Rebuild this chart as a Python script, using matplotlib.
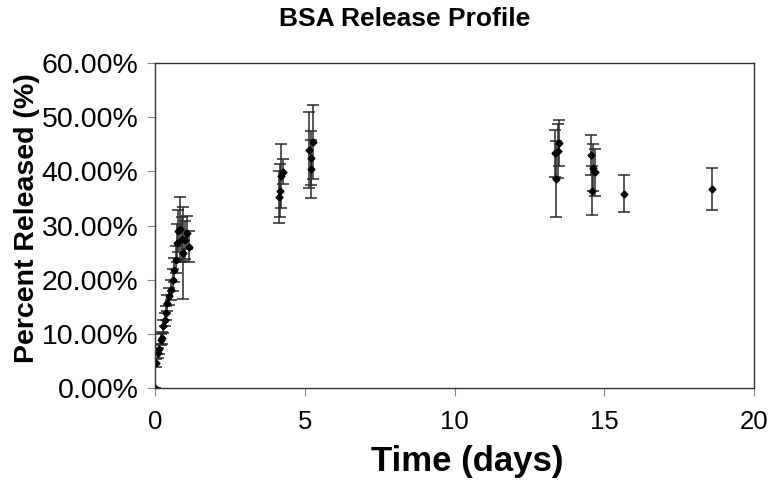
import matplotlib
matplotlib.use("Agg")
import matplotlib.pyplot as plt
from matplotlib.ticker import FuncFormatter

# Data (days, percent released, error)
days = [0.0, 0.03, 0.11, 0.14, 0.19, 0.23, 0.28, 0.33, 0.37, 0.41, 0.48, 0.52, 0.59, 0.63,
        0.70, 0.74, 0.78, 0.83, 0.89, 0.94, 1.00, 1.06, 1.14,
        4.13, 4.17, 4.22, 4.28,
        5.14, 5.20, 5.22, 5.26,
        13.37, 13.39, 13.44, 13.50,
        14.56, 14.59, 14.63, 14.70,
        15.67, 18.61]
released = [0.0, 4.6, 6.5, 7.2, 8.9, 9.2, 11.4, 12.6, 13.9, 15.7, 16.9, 18.1, 20.0, 21.8,
            23.7, 26.8, 29.0, 29.3, 27.5, 25.0, 27.4, 28.7, 26.1,
            35.3, 36.4, 39.1, 39.9,
            43.9, 42.5, 40.4, 45.4,
            43.3, 38.6, 43.8, 45.2,
            43.0, 36.4, 40.7, 39.8,
            35.9, 36.7]
errors = [0.0, 0.8, 0.9, 1.0, 1.0, 1.1, 1.2, 1.2, 1.3, 1.5, 1.6, 1.8, 2.0, 2.2,
          2.5, 3.5, 3.8, 6.0, 4.0, 8.5, 3.5, 3.0, 2.8,
          4.8, 4.9, 5.9, 2.3,
          7.0, 5.0, 5.3, 6.8,
          4.3, 7.0, 5.0, 4.3,
          3.7, 4.5, 4.3, 4.3,
          3.35, 3.85]

x_ticks = [0, 5, 10, 15, 20]
y_ticks = [0, 10, 20, 30, 40, 50, 60]

plt.rcParams['font.family'] = ['Liberation Sans', 'DejaVu Sans']

W, H = 768, 491
fig = plt.figure(figsize=(W/100, H/100), dpi=100)
ax = fig.add_axes([155/W, 1 - 388/H, 599/W, 325/H])

ax.errorbar(days, released, yerr=errors, fmt='D', color='black', markersize=3.5,
            ecolor='#2a2a2a', elinewidth=1.1, capsize=4, capthick=1.1)

ax.set_xlim(0, 20)
ax.set_ylim(0, 60)
ax.set_xticks(x_ticks)
ax.set_yticks(y_ticks)
ax.yaxis.set_major_formatter(FuncFormatter(lambda v, p: f"{v:.2f}%"))
ax.tick_params(axis='both', direction='out', length=6, color='#888888')
ax.tick_params(axis='x', pad=10, labelsize=18.5)
ax.tick_params(axis='y', pad=6, labelsize=20.5)
for s in ax.spines.values():
    s.set_color('#333333')
    s.set_linewidth(1.0)

fig.text(405/W, 1 - 19/H, 'BSA Release Profile', fontsize=19, fontweight='bold',
         ha='center', va='center')
fig.text(467/W, 1 - 462/H, 'Time (days)', fontsize=25, fontweight='bold',
         ha='center', va='center')
fig.text(27/W, 1 - 218/H, 'Percent Released (%)', fontsize=20.5, fontweight='bold',
         ha='center', va='center', rotation=90)

fig.savefig('out.png', dpi=100)
